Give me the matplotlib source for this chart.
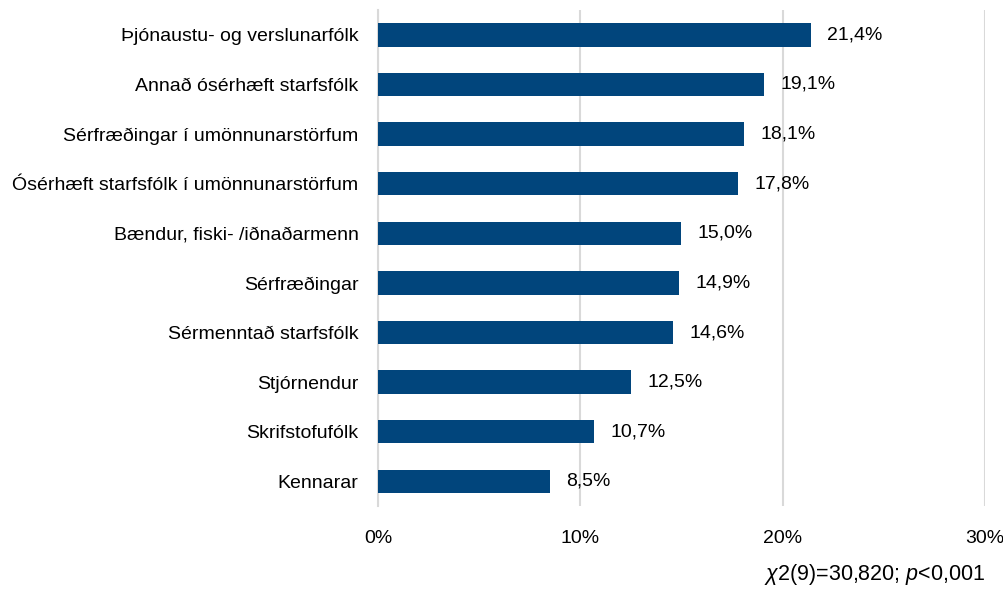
import matplotlib
matplotlib.use("Agg")
import matplotlib.pyplot as plt
from matplotlib.ticker import FuncFormatter

plt.rcParams['font.family'] = 'Liberation Sans'
plt.rcParams['mathtext.fontset'] = 'custom'
plt.rcParams['mathtext.rm'] = 'Liberation Sans'
plt.rcParams['mathtext.it'] = 'Liberation Sans:italic'

categories = [
    'Þjónaustu- og verslunarfólk',
    'Annað ósérhæft starfsfólk',
    'Sérfræðingar í umönnunarstörfum',
    'Ósérhæft starfsfólk í umönnunarstörfum',
    'Bændur, fiski- /iðnaðarmenn',
    'Sérfræðingar',
    'Sérmenntað starfsfólk',
    'Stjórnendur',
    'Skrifstofufólk',
    'Kennarar',
]
values = [21.4, 19.1, 18.1, 17.8, 15.0, 14.9, 14.6, 12.5, 10.7, 8.5]
xticks = [0, 10, 20, 30]
note = r'$\mathit{\chi}$2(9)=30,820; $\mathit{p}$<0,001'

bar_color = '#01457c'

fig = plt.figure(figsize=(10.04, 5.92), dpi=100)
ax = fig.add_axes([0.3765, 0.145, 0.6045, 0.838])

ypos = list(range(len(categories)))
ax.barh(ypos, values, height=0.47, color=bar_color, zorder=3)
for y, v in zip(ypos, values):
    ax.text(v + 0.8, y, ('%.1f%%' % v).replace('.', ','), va='center', ha='left',
            fontsize=14, color='black')

ax.set_yticks(ypos)
ax.set_yticklabels(categories, fontsize=14)
ax.set_ylim(len(categories) - 0.5, -0.5)
ax.set_xlim(0, 30)
ax.set_xticks(xticks)
ax.xaxis.set_major_formatter(FuncFormatter(lambda x, p: '%d%%' % x))
ax.tick_params(axis='x', labelsize=14, length=0, pad=17)
ax.tick_params(axis='y', length=0, pad=14)
ax.grid(axis='x', color='#d9d9d9', linewidth=1.5, zorder=0)
for s in ['top', 'right', 'bottom']:
    ax.spines[s].set_visible(False)
ax.spines['left'].set_color('#d9d9d9')
ax.spines['left'].set_linewidth(1.5)

fig.text(0.981, 0.008, note, ha='right', va='bottom', fontsize=15.5, color='black')

fig.savefig('out.png', dpi=100)
